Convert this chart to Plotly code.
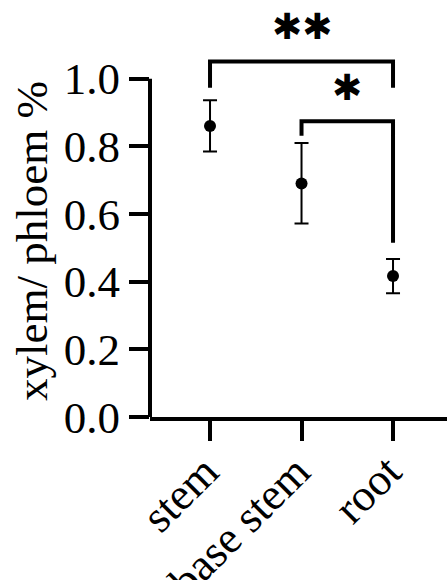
import plotly.graph_objects as go

categories = ["stem", "base stem", "root"]
means = [0.86, 0.69, 0.417]
err_upper = [0.076, 0.12, 0.05]
err_lower = [0.075, 0.118, 0.051]

y_tickvals = [0.0, 0.2, 0.4, 0.6, 0.8, 1.0]
y_ticktext = ["0.0", "0.2", "0.4", "0.6", "0.8", "1.0"]

# significance brackets: (left idx, right idx, top, left leg bottom, right leg bottom, label, label y)
brackets = [
    (0, 2, 1.051, 0.973, 0.973, "✱✱", 1.155),
    (1, 2, 0.874, 0.831, 0.515, "✱", 0.975),
]

SERIF = "Liberation Serif"

fig = go.Figure()
fig.add_trace(go.Scatter(
    x=list(range(len(categories))), y=means, mode="markers",
    marker=dict(color="black", size=12),
    error_y=dict(type="data", symmetric=False, array=err_upper, arrayminus=err_lower,
                 color="black", thickness=2, width=7),
    showlegend=False,
))

shapes = []
# y axis line only up to 1.0
shapes.append(dict(type="line", xref="x domain", yref="y", x0=0, x1=0,
                   y0=y_tickvals[0], y1=y_tickvals[-1], line=dict(color="black", width=4)))
annotations = []
for l, r, top, lb, rb, lab, ly in brackets:
    shapes.append(dict(type="path", xref="x", yref="y",
                       path=f"M {l},{lb} L {l},{top} L {r},{top} L {r},{rb}",
                       line=dict(color="black", width=4)))
    annotations.append(dict(x=(l + r) / 2, y=ly, xref="x", yref="y", text=lab,
                            showarrow=False, yanchor="middle",
                            font=dict(family="DejaVu Sans", size=36, color="black")))

annotations.append(dict(x=0, xref="paper", xshift=-118, y=0.52, yref="y",
                        text="xylem/ phloem %", textangle=-90, showarrow=False,
                        xanchor="center", yanchor="middle",
                        font=dict(family=SERIF, size=45, color="black")))

fig.update_layout(
    width=447, height=580,
    margin=dict(l=150, r=0, t=11, b=163),
    plot_bgcolor="white", paper_bgcolor="white",
    shapes=shapes, annotations=annotations,
    xaxis=dict(range=[-0.656, 2.59], tickvals=list(range(len(categories))), ticktext=categories,
               showline=True, linecolor="black", linewidth=4, showgrid=False, zeroline=False,
               ticks="outside", ticklen=20, tickwidth=4, tickcolor="black", tickangle=-45,
               automargin=False, ticklabelstandoff=-14, ticklabelshift=-5,
               tickfont=dict(family=SERIF, size=45, color="black")),
    yaxis=dict(range=[0, 1.2], tickvals=y_tickvals, ticktext=y_ticktext,
               showline=False, showgrid=False, zeroline=False, automargin=False,
               ticks="outside", ticklen=20, tickwidth=4, tickcolor="black",
               tickfont=dict(family=SERIF, size=45, color="black")),
)

fig.write_html("out.html")
